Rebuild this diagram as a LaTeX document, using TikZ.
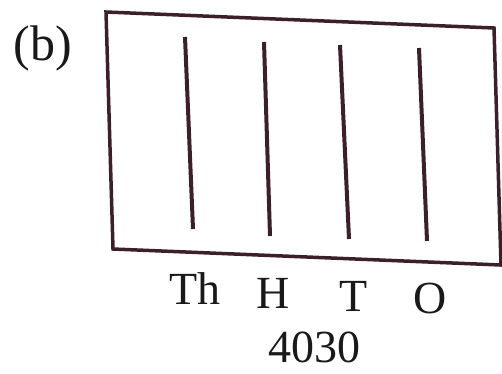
\documentclass[tikz,border=0pt]{standalone}
\usepackage{fontspec}
\setmainfont{Liberation Serif}
\usetikzlibrary{positioning}
\definecolor{ink}{HTML}{3B2028}

\begin{document}
\begin{tikzpicture}[
  x=1pt, y=-1pt,
  lbl/.style={font=\fontsize{46}{50}\selectfont, text=black!90, inner sep=0pt, anchor=base},
  frame/.style={draw=ink, line width=3.5pt, line join=miter},
  rod/.style={draw=ink, line width=4pt}
]
\useasboundingbox (0,0) rectangle (502,373);
% --- frame of the abacus ---
\coordinate (ftl) at (106,12);
\coordinate (ftr) at (494,28);
\coordinate (fbr) at (501,265);
\coordinate (fbl) at (113,249);
\draw[frame] (ftl) -- (ftr) -- (fbr) -- (fbl) -- cycle;

% --- rods ---
\foreach \n/\xt/\yt/\xb/\yb in {th/185/37/193/229, h/264/42/270/236,
                                t/340/45/349/239, o/419/48/427/241} {
  \coordinate (\n top) at (\xt,\yt);
  \coordinate (\n bot) at (\xb,\yb);
  \draw[rod] (\n top) -- (\n bot);
}

% --- labels ---
\node[lbl, font=\fontsize{50}{54}\selectfont] (part) at (43,60) {(b)};
\node[lbl] (lth)  at (195,304) {Th};
\node[lbl] (lh)   at (273,308) {H};
\node[lbl] (lt)   at (354,311) {T};
\node[lbl] (lo)   at (430,313) {O};
\node[lbl] (num)  at (314,362) {4030};
\end{tikzpicture}
\end{document}
